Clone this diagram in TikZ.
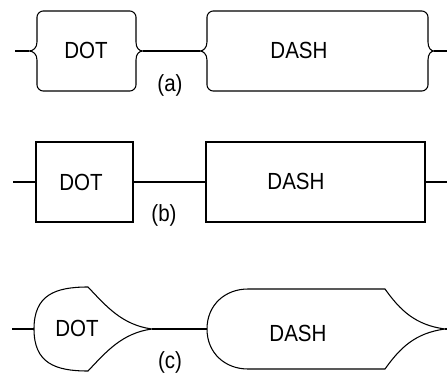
\documentclass[tikz,border=0pt]{standalone}
\usepackage{fontspec}
\setmainfont{Liberation Sans}[FakeStretch=0.88]
\begin{document}
\begin{tikzpicture}[x=0.75pt,y=-0.75pt,line width=0.8pt,
    lbl/.style={inner sep=0pt,font=\fontsize{17.5}{20}\selectfont},
    rect/.style={draw,inner sep=0pt}]
  \useasboundingbox (0,0) rectangle (447,372);
  % (a) brace boxes
  \coordinate (a-in) at (15,51);
  \coordinate (dota-l) at (29,51);
  \coordinate (dota-r) at (143,51);
  \coordinate (dasha-l) at (200,51);
  \coordinate (dasha-r) at (434,51);
  \coordinate (a-out) at (447,51);
  \draw (37,42) -- (37,17) .. controls (37,14) and (40,11) .. (43,11)
    -- (130,11) .. controls (133,11) and (136,14) .. (136,17)
    -- (136,42) .. controls (136,48) and (139,51) .. (dota-r)
    .. controls (139,51) and (136,54) .. (136,60)
    -- (136,85) .. controls (136,88) and (133,91) .. (130,91)
    -- (43,91) .. controls (40,91) and (37,88) .. (37,85)
    -- (37,60) .. controls (37,54) and (33,51) .. (dota-l)
    .. controls (33,51) and (37,48) .. cycle;
  \draw (207,42) -- (207,17) .. controls (207,14) and (210,11) .. (213,11)
    -- (422,11) .. controls (425,11) and (428,14) .. (428,17)
    -- (428,42) .. controls (428,48) and (431,51) .. (dasha-r)
    .. controls (431,51) and (428,54) .. (428,60)
    -- (428,85) .. controls (428,88) and (425,91) .. (422,91)
    -- (213,91) .. controls (210,91) and (207,88) .. (207,85)
    -- (207,60) .. controls (207,54) and (203,51) .. (dasha-l)
    .. controls (203,51) and (207,48) .. cycle;
  \node[lbl] (dota) at (86,50) {DOT};
  \node[lbl] (dasha) at (299,50) {DASH};
  \node[lbl] (capa) at (170,85) {(a)};
  \draw (a-in) -- (dota-l);
  \draw (dota-r) -- (dasha-l);
  \draw (dasha-r) -- (a-out);

  % (b) plain boxes
  \coordinate (b-in) at (13,182);
  \coordinate (b-out) at (447,182);
  \node[rect,minimum width=72.75pt,minimum height=60pt] (dotb) at (84.5,182) {};
  \node[rect,minimum width=164.25pt,minimum height=60pt] (dashb) at (315.5,182) {};
  \node[lbl] (dotbtext) at (81,182) {DOT};
  \node[lbl] (dashbtext) at (296,181) {DASH};
  \node[lbl] (capb) at (164,215) {(b)};
  \draw (b-in) -- (dotb.west);
  \draw (dotb.east) -- (dashb.west);
  \draw (dashb.east) -- (b-out);

  % (c) pointed shapes
  \coordinate (c-in) at (12,329);
  \coordinate (dotc-l) at (34,329);
  \coordinate (dotc-r) at (152,329);
  \coordinate (dashc-l) at (207,329);
  \coordinate (dashc-r) at (445,329);
  \coordinate (c-out) at (447,329);
  \draw (dotc-l) .. controls (34,295) and (55,287) .. (88,287)
    .. controls (106,306) and (122,325) .. (dotc-r)
    .. controls (122,333) and (106,352) .. (88,371)
    .. controls (55,371) and (34,363) .. cycle;
  \draw (dashc-l) .. controls (207,305) and (225,289) .. (248,289)
    -- (385,289) .. controls (400,310) and (415,325) .. (dashc-r)
    .. controls (415,333) and (400,348) .. (385,369)
    -- (248,369) .. controls (225,369) and (207,353) .. cycle;
  \node[lbl] (dotc) at (77,328) {DOT};
  \node[lbl] (dashc) at (298,333) {DASH};
  \node[lbl] (capc) at (170,362) {(c)};
  \draw (c-in) -- (dotc-l);
  \draw (dotc-r) -- (dashc-l);
  \draw (dashc-r) -- (c-out);
\end{tikzpicture}
\end{document}
